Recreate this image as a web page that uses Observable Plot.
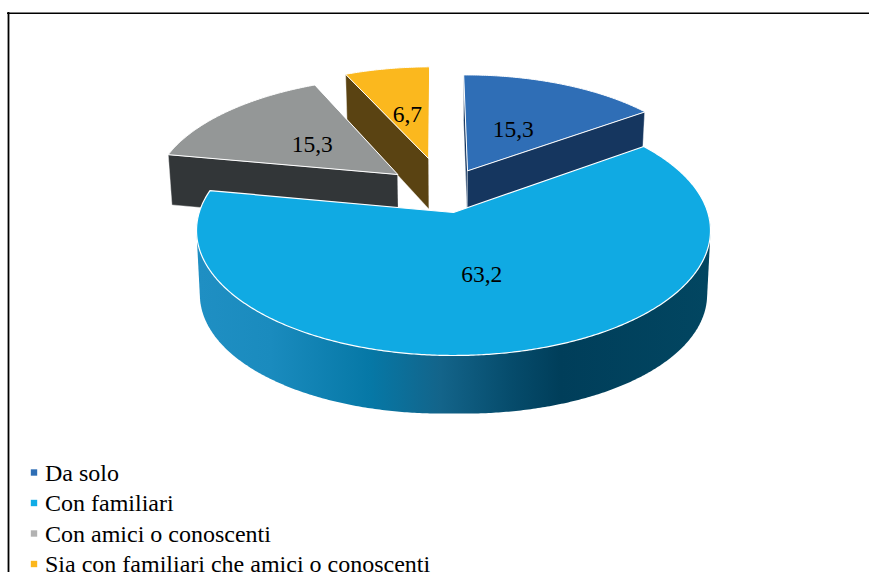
<!DOCTYPE html>
<html lang="it">
<head>
<meta charset="utf-8">
<title>Con chi</title>
<script src="https://cdn.jsdelivr.net/npm/d3@7"></script>
<script src="https://cdn.jsdelivr.net/npm/@observablehq/plot@0.6"></script>
<style>
  html, body { margin: 0; padding: 0; background: #fff; overflow: hidden; }
  svg { display: block; }
</style>
</head>
<body>
<div id="chart"></div>
<script>
// Shares of respondents by company
const categories = ["Da solo", "Con familiari", "Con amici o conoscenti", "Sia con familiari che amici o conoscenti"];
const values = [15.3, 63.2, 15.3, 6.7];

// Slice styling
const topColors = ["#2f6eb6", "#10aae3", "#949797", "#fbb81e"];
const wallColors = ["#15365f", "#0d7ba8", "#323638", "#5a4312"];
const legendColors = ["#2e6eb5", "#10ace6", "#b2b2b2", "#fcb71b"];

// Exploded offset of each slice on the pie plane, in pie radii
const offsetU = [0.058, 0, -0.2305, -0.105];
const offsetV = [0.361, 0, 0.325, 0.471];
const rimScale = [0.98, 1, 0.99, 0.965];
const labelRadius = [0.45, 0.475, 0.475, 0.46];

// Shading along the rim of the large slice, left to right
const rimStopX = [199, 270, 370, 440, 510, 560, 707];
const rimStopColor = ["#1f8fc3", "#1a8bbe", "#0678a6", "#13648a", "#064c6c", "#003e5a", "#024661"];

// Perspective of the pie plane
const cx = 453, cy = 212, a = 254.3, b = 122.4, p = 0.144;
const startAngle = -0.6;

function project(u, v, z, main) {
  const w = 1 + p * v;
  const drop = main ? 58 + 6 * Math.sqrt(Math.max(0, 1 - v * v)) : 53 - 5.5 * v;
  return {
    px: cx + (a * u / w) * (1 - 0.013 * z),
    py: cy - (b * v) / w + z * drop
  };
}

const total = d3.sum(values);
let running = startAngle;
const slices = values.map((value, i) => {
  const from = running;
  const to = from + (value / total) * 360;
  running = to;
  return {i, value, from, to, mid: (from + to) / 2, main: i === 1};
});

const rad = d => (d * Math.PI) / 180;
const rimPoint = (s, angle, z) => project(
  offsetU[s.i] + rimScale[s.i] * Math.sin(rad(angle)),
  offsetV[s.i] + rimScale[s.i] * Math.cos(rad(angle)),
  z, s.main
);
const apexPoint = (s, z) => project(offsetU[s.i], offsetV[s.i], z, s.main);

function arcAngles(s) {
  const n = Math.ceil((s.to - s.from) * 2);
  return d3.range(n + 1).map(k => s.from + ((s.to - s.from) * k) / n);
}

// Polygon of one top face
const topFace = s => [apexPoint(s, 0), ...arcAngles(s).map(t => rimPoint(s, t, 0))]
  .map(q => ({...q, id: s.i, fill: topColors[s.i]}));

// Flat radial wall below one edge of a slice
const radialWall = (s, angle, tag) => [
  apexPoint(s, 0), rimPoint(s, angle, 0), rimPoint(s, angle, 1), apexPoint(s, 1)
].map(q => ({...q, id: `${s.i}-${tag}`, fill: wallColors[s.i]}));

// Visible rim of the large slice: hull of the near arcs on both levels
const big = slices[1];
const nearAngles = arcAngles(big).filter(t => t > 92 && t < 268);
const rimBand = d3.polygonHull(nearAngles.flatMap(t => {
  const top = rimPoint(big, t, 0), bottom = rimPoint(big, t, 1);
  return [[top.px, top.py], [bottom.px, bottom.py]];
})).map(([px, py]) => ({px, py}));

const polygon = (data, extra = {}) => Plot.line(data, {
  x: "px", y: "py", z: "id", fill: "fill", stroke: "none", curve: "linear-closed", ...extra
});

// Horizontal shading referenced by the rim band
function rimGradient() {
  const defs = d3.create("svg:defs");
  const gradient = defs.append("linearGradient")
    .attr("id", "rim-shade")
    .attr("gradientUnits", "userSpaceOnUse")
    .attr("x1", rimStopX[0]).attr("x2", rimStopX[rimStopX.length - 1])
    .attr("y1", 0).attr("y2", 0);
  const span = rimStopX[rimStopX.length - 1] - rimStopX[0];
  rimStopX.forEach((x, i) => gradient.append("stop")
    .attr("offset", (x - rimStopX[0]) / span)
    .attr("stop-color", rimStopColor[i]));
  return defs.node();
}

// Back slices first, the large slice goes on top of them
const walls = [
  ...radialWall(slices[2], slices[2].from, "near"),
  ...radialWall(slices[3], slices[3].from, "near"),
  ...radialWall(slices[0], slices[0].from, "back"),
  ...radialWall(slices[0], slices[0].to, "near")
];
const backFaces = [slices[2], slices[3], slices[0]].flatMap(topFace);

const valueLabels = slices.map(s => {
  const r = labelRadius[s.i];
  const q = project(
    offsetU[s.i] + r * Math.sin(rad(s.mid)),
    offsetV[s.i] + r * Math.cos(rad(s.mid)),
    0, s.main
  );
  return {...q, text: String(s.value).replace(".", ",")};
});

const legendRows = categories.map((name, i) => ({name, i}));
const legendY = i => 472 + 30.5 * i;

const chart = Plot.plot({
  width: 869,
  height: 572,
  margin: 0,
  x: {domain: [0, 869], range: [0, 869], axis: null},
  y: {domain: [0, 572], range: [0, 572], axis: null},
  color: {type: "identity"},
  style: {fontFamily: "'Liberation Serif', 'Times New Roman', serif", background: "#fff", overflow: "hidden"},
  marks: [
    rimGradient,

    // Frame around the figure
    Plot.ruleX([8], {y1: 12, y2: 572, stroke: "#000", strokeWidth: 1.8}),
    Plot.ruleY([12.7], {x1: 7, x2: 869, stroke: "#000", strokeWidth: 1.6}),

    polygon(walls, {stroke: "#fff", strokeWidth: 0.4}),
    polygon(backFaces, {stroke: "#fff", strokeWidth: 1}),

    Plot.line(rimBand, {x: "px", y: "py", fill: "url(#rim-shade)", stroke: "none", curve: "linear-closed"}),
    polygon(topFace(big), {stroke: "#fff", strokeWidth: 1.2}),

    Plot.text(valueLabels, {
      x: "px", y: "py", text: "text", fontSize: 23.5, fill: "#000", lineAnchor: "middle", dy: 1.5
    }),

    // Legend rows, the last one runs past the lower edge
    Plot.dot(legendRows, {
      x: () => 33.5, y: d => legendY(d.i), symbol: "square", r: 3.6,
      fill: d => legendColors[d.i], stroke: "none"
    }),
    Plot.text(legendRows, {
      x: () => 44.5, y: d => legendY(d.i) + 8, text: "name",
      textAnchor: "start", lineAnchor: "bottom", fontSize: 24, fill: "#000"
    })
  ]
});

document.getElementById("chart").append(chart);
</script>
</body>
</html>
